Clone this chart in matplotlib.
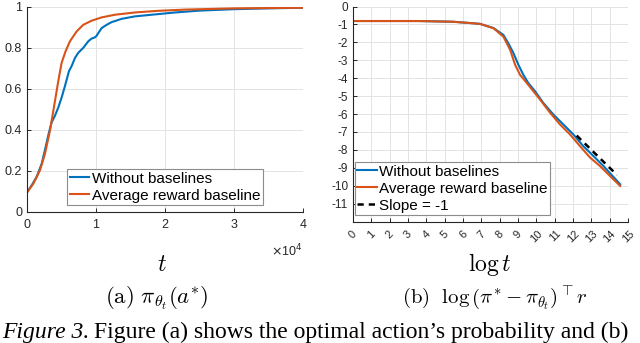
import matplotlib
matplotlib.use("Agg")
import matplotlib.pyplot as plt

plt.rcParams['font.family'] = ['Liberation Sans', 'DejaVu Sans']
plt.rcParams['mathtext.fontset'] = 'cm'

BLUE = '#0072BD'
ORANGE = '#D95319'

# (a) probability of the optimal action vs t
t_avg = [0, 920, 1880, 2600, 3330, 4060, 4540, 5020, 5600, 6230, 7200, 8160,
         9370, 10820, 12750, 15650, 19000, 22900, 30000, 40000]
p_avg = [0.095, 0.138, 0.203, 0.283, 0.396, 0.541, 0.638, 0.726, 0.783, 0.831,
         0.879, 0.911, 0.931, 0.947, 0.960, 0.971, 0.979, 0.985, 0.991, 0.994]

t_nob = [0, 680, 1400, 2130, 2700, 3190, 3570, 4060, 4540, 5020, 5510, 6090,
         6470, 6960, 7440, 8160, 8890, 9370, 9860, 10100, 10340, 10820, 11550,
         12270, 13720, 15650, 18070, 21450, 25000, 30000, 35000, 40000]
p_nob = [0.095, 0.130, 0.171, 0.235, 0.316, 0.388, 0.436, 0.469, 0.509, 0.557,
         0.614, 0.686, 0.710, 0.750, 0.775, 0.799, 0.831, 0.844, 0.850, 0.858,
         0.871, 0.895, 0.911, 0.924, 0.940, 0.952, 0.960, 0.971, 0.980, 0.987,
         0.991, 0.994]

# (b) log suboptimality vs log t
lx_avg = [0, 2, 3.6, 5.45, 6.36, 6.93, 7.66, 8.2, 8.57, 8.84, 9.11, 9.48, 9.84,
          10.2, 10.75, 11.29, 11.84, 12.38, 12.93, 13.47, 14.02, 14.57]
ly_avg = [-0.81, -0.81, -0.81, -0.85, -0.92, -0.97, -1.21, -1.68, -2.42, -3.25,
          -3.81, -4.27, -4.73, -5.19, -5.93, -6.58, -7.14, -7.79, -8.43, -8.9,
          -9.46, -10.01]

lx_nob = [0, 2, 3.6, 5.45, 6.36, 6.93, 7.66, 8.2, 8.47, 8.75, 9.02, 9.29, 9.56,
          9.93, 10.38, 10.93, 11.47, 12.02, 12.56, 13.11, 13.66, 14.57]
ly_nob = [-0.81, -0.81, -0.81, -0.85, -0.92, -0.97, -1.2, -1.58, -2.05, -2.6,
          -3.25, -3.81, -4.27, -4.73, -5.38, -6.03, -6.58, -7.14, -7.79, -8.34,
          -8.9, -9.92]

slope_x = [12.2, 14.4]
slope_y = [-7.2, -9.4]

a_xticks = [0, 10000, 20000, 30000, 40000]
a_xlabels = ['0', '1', '2', '3', '4']
a_yticks = [0, 0.2, 0.4, 0.6, 0.8, 1]
a_ylabels = ['0', '0.2', '0.4', '0.6', '0.8', '1']
b_xticks = list(range(0, 16))
b_yticks = list(range(0, -12, -1))

labels = ['Without baselines', 'Average reward baseline', 'Slope = -1']

fig = plt.figure(figsize=(6.4, 3.43), dpi=100)
ax1 = fig.add_axes([0.0422, 0.382, 0.431, 0.599])
ax2 = fig.add_axes([0.5516, 0.354, 0.4297, 0.627])


def style(ax):
    for s in ['top', 'right']:
        ax.spines[s].set_visible(False)
    for s in ['left', 'bottom']:
        ax.spines[s].set_color('#262626')
        ax.spines[s].set_linewidth(0.8)
    ax.tick_params(direction='in', length=3, width=0.7, colors='#262626',
                   labelcolor='#262626')
    ax.grid(True, color='#e3e3e3', linewidth=0.7)
    ax.set_axisbelow(True)


# (a)
style(ax1)
ax1.plot(t_nob, p_nob, color=BLUE, lw=1.5, label=labels[0])
ax1.plot(t_avg, p_avg, color=ORANGE, lw=1.5, label=labels[1])
ax1.set_xlim(0, 40000)
ax1.set_ylim(0, 1)
ax1.set_xticks(a_xticks)
ax1.set_xticklabels(a_xlabels, fontsize=9)
ax1.set_yticks(a_yticks)
ax1.set_yticklabels(a_ylabels, fontsize=9)
ax1.tick_params(axis='x', pad=5)
ax1.text(1.0, -0.15, r'$\times$10$^4$', transform=ax1.transAxes, ha='right',
         va='top', fontsize=9, color='#262626',
         math_fontfamily='dejavusans')
leg1 = ax1.legend(loc='lower center', bbox_to_anchor=(0.5, 0.034),
                  borderaxespad=0, fontsize=11, handlelength=1.3,
                  handletextpad=0.15, labelspacing=0.2, borderpad=0.15,
                  fancybox=False, framealpha=1, edgecolor='#8c8c8c')
leg1.get_frame().set_linewidth(0.8)

# (b)
style(ax2)
ax2.plot(lx_nob, ly_nob, color=BLUE, lw=1.5, label=labels[0])
ax2.plot(lx_avg, ly_avg, color=ORANGE, lw=1.5, label=labels[1])
ax2.plot(slope_x, slope_y, color='black', lw=1.8, ls=(0, (2.5, 2)),
         label=labels[2])
ax2.set_xlim(0, 15)
ax2.set_ylim(-12, 0)
ax2.set_xticks(b_xticks)
ax2.set_xticklabels([str(v) for v in b_xticks], fontsize=8, rotation=45,
                    ha='center')
ax2.tick_params(axis='x', pad=5)
ax2.set_yticks(b_yticks)
ax2.set_yticklabels([str(v) for v in b_yticks], fontsize=8.5)
leg2 = ax2.legend(loc='lower left', bbox_to_anchor=(0.007, 0.03),
                  borderaxespad=0, fontsize=11, handlelength=1.3,
                  handletextpad=0.15, labelspacing=0.2, borderpad=0.15,
                  fancybox=False, framealpha=1, edgecolor='#8c8c8c')
leg2.get_frame().set_linewidth(0.8)

# axis labels and sub-captions
fig.text(162 / 640, 1 - 265 / 343, r'$t$', ha='center', va='center',
         fontsize=17)
fig.text(490 / 640, 1 - 265 / 343, r'$\log t$', ha='center', va='center',
         fontsize=17)
fig.text(157 / 640, 1 - 298 / 343, r'$\mathrm{(a)}\ \pi_{\theta_t}(a^{*})$',
         ha='center', va='center', fontsize=16.5)
fig.text(495 / 640, 1 - 298 / 343,
         r'$\mathrm{(b)}\ \ \log\left(\pi^{*}-\pi_{\theta_t}\right)^{\top} r$',
         ha='center', va='center', fontsize=15)

# figure caption (cut at the bottom as in the page)
cap1 = fig.text(2 / 640, 5 / 343, 'Figure 3.', family='Liberation Serif',
                style='italic', fontsize=17, va='baseline', ha='left')
fig.canvas.draw()
bb = cap1.get_window_extent()
fig.text((bb.x1 + 5) / 640, 5 / 343,
         'Figure (a) shows the optimal action\u2019s probability and (b)',
         family='Liberation Serif', fontsize=17, va='baseline', ha='left')

fig.savefig('out.png', dpi=100)
